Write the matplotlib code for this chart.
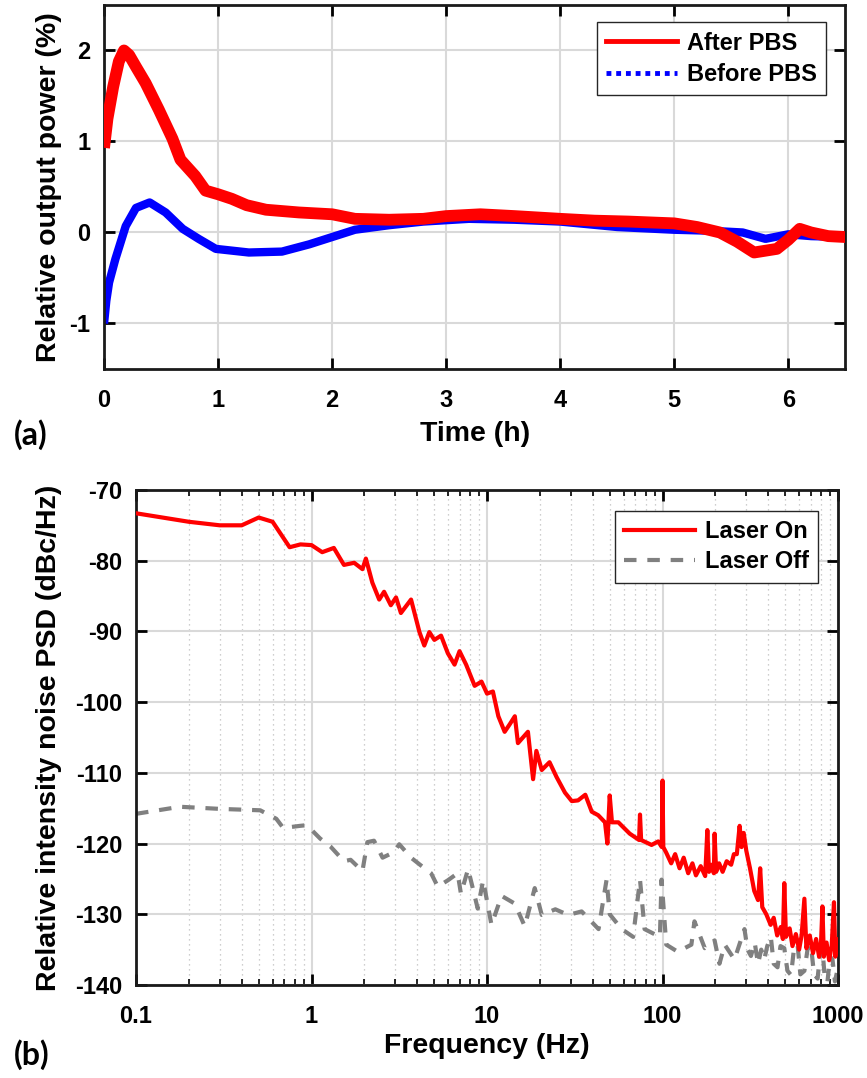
"""Laser output power drift (a) and relative intensity noise PSD (b)."""

import matplotlib.pyplot as plt
from matplotlib.lines import Line2D
from matplotlib.ticker import LogLocator, NullFormatter

plt.rcParams["font.family"] = ["Liberation Sans", "DejaVu Sans"]
plt.rcParams["font.weight"] = "bold"
plt.rcParams["axes.unicode_minus"] = False

# ---- panel (a): relative output power vs time ----
t_after = [0.0, 0.03, 0.08, 0.13, 0.175, 0.22, 0.28, 0.365, 0.48, 0.6, 0.67,
           0.8, 0.89, 1.0, 1.12, 1.25, 1.42, 1.71, 2.0, 2.2, 2.5, 2.8, 3.0,
           3.3, 3.6, 4.0, 4.3, 4.6, 5.0, 5.2, 5.4, 5.55, 5.7, 5.8, 5.9, 6.0,
           6.1, 6.2, 6.35, 6.5]
p_after = [0.93, 1.25, 1.6, 1.88, 2.0, 1.95, 1.82, 1.64, 1.35, 1.03, 0.8,
           0.62, 0.46, 0.42, 0.37, 0.3, 0.25, 0.22, 0.2, 0.15, 0.14, 0.15, 0.18,
           0.2, 0.18, 0.15, 0.13, 0.12, 0.1, 0.06, 0.0, -0.1, -0.22, -0.2,
           -0.18, -0.08, 0.04, 0.0, -0.04, -0.05]

t_before = [0.0, 0.02, 0.044, 0.1, 0.19, 0.28, 0.4, 0.54, 0.69, 0.83, 0.98,
            1.27, 1.56, 1.8, 2.0, 2.2, 2.5, 2.8, 3.2, 3.6, 4.0, 4.5, 5.0, 5.3,
            5.6, 5.8, 6.0, 6.2, 6.5]
p_before = [-1.0, -0.75, -0.55, -0.29, 0.07, 0.27, 0.33, 0.22, 0.04, -0.07,
            -0.18, -0.22, -0.21, -0.13, -0.05, 0.03, 0.08, 0.12, 0.15, 0.14,
            0.12, 0.06, 0.03, 0.02, 0.0, -0.07, -0.02, -0.04, -0.05]

# ---- panel (b): RIN PSD ----
f_on = [0.1, 0.2, 0.3, 0.4, 0.5, 0.6, 0.75, 0.865, 1.0, 1.15, 1.34, 1.53, 1.75,
        1.95, 2.04, 2.22, 2.43, 2.59, 2.83, 3.03, 3.23, 3.69, 4.12, 4.39, 4.69,
        5.01, 5.47, 5.98, 6.53, 6.97, 7.6, 8.5, 9.3, 10.0, 10.8, 11.6, 12.6,
        13.5, 14.4, 15.0, 17.1, 18.3, 19.1, 20.5, 22.7, 24.9, 27.8, 30.4, 33.0,
        36.3, 39.5, 43.0, 47.0, 48.5, 50.0, 51.5, 56.0, 65.0, 73.5, 74.4, 75.5,
        86.6, 94.5, 99.0, 100.0, 101.0,
        105, 112, 118, 125, 132, 140, 148, 155, 165, 175, 180, 184, 190, 196,
        198, 202, 210, 220, 232, 246, 255, 265, 275, 282, 290, 300, 315, 333,
        350, 360, 370, 390, 413, 430, 450, 472, 485, 494, 505, 530, 550, 575,
        600, 620, 643, 660, 690, 720, 750, 780, 800, 815, 830, 860, 890, 920,
        948, 965, 985, 1000]
psd_on = [-73.3, -74.5, -75.0, -75.0, -73.9, -74.5, -78.1, -77.7, -77.8, -78.8,
          -78.2, -80.6, -80.3, -81.2, -79.7, -83.1, -85.5, -84.4, -86.3, -85.2,
          -87.4, -85.5, -90.1, -92.0, -90.1, -91.2, -90.6, -93.1, -94.7, -92.8,
          -94.7, -97.7, -97.1, -98.8, -98.5, -102.0, -104.2, -103.1, -102.0,
          -105.8, -104.2, -110.9, -106.9, -109.6, -108.5, -110.6, -112.8,
          -114.0, -113.9, -113.1, -115.5, -116.0, -117.0, -120.0, -113.2,
          -117.0, -117.0, -118.6, -119.5, -115.9, -119.5, -120.2, -119.7,
          -120.5, -111.1, -120.5,
          -121.3, -122.8, -121.5, -123.5, -122.0, -124.2, -122.8, -124.5,
          -123.2, -124.6, -118.1, -124.0, -123.0, -124.2, -118.6, -124.0,
          -122.8, -124.0, -122.5, -123.0, -121.5, -121.5, -117.5, -120.5,
          -118.5, -121.0, -123.5, -126.7, -128.0, -123.5, -129.0, -130.0,
          -131.5, -130.5, -133.0, -131.8, -133.5, -125.6, -133.2, -132.0,
          -134.5, -132.8, -135.0, -133.0, -127.8, -134.8, -133.0, -135.5,
          -133.5, -136.0, -134.0, -128.9, -136.0, -134.0, -136.5, -134.5,
          -128.3, -136.0, -133.5, -134.3]

f_off = [0.1, 0.178, 0.3, 0.51, 0.63, 0.69, 0.86, 0.94, 1.12, 1.28, 1.53, 1.67,
         1.95, 2.08, 2.27, 2.54, 2.96, 3.16, 3.69, 4.2, 4.8, 5.24, 5.98, 6.8, 7.1,
         7.8, 8.85, 9.5, 10.6, 12.1, 14.4, 16.4, 18.7, 20.5, 24.5, 29.0, 34.6,
         43.2, 48.0, 50.0, 58.5, 68.0, 74.4, 79.0, 96.6, 98.7, 105.0, 122.0,
         146.0, 152.0, 174.0, 198.0, 211.0, 226.0, 257.0,
         293, 305, 319, 335, 350, 365, 380, 395, 414, 430, 452, 470, 494, 515,
         540, 560, 588, 610, 643, 670, 700, 730, 765, 790, 815, 840, 870, 900,
         930, 960, 1000]
psd_off = [-115.8, -114.8, -115.1, -115.3, -116.5, -117.8, -117.5, -117.4,
           -119.3, -120.4, -122.5, -122.3, -123.9, -119.8, -119.6, -122.0,
           -121.2, -120.1, -122.0, -123.1, -124.2, -126.1, -125.2, -124.2,
           -127.1, -123.6, -129.2, -125.2, -131.5, -127.4, -128.5, -131.7,
           -126.3, -130.1, -129.3, -130.1, -129.6, -132.1, -125.1, -130.0,
           -132.1, -133.2, -125.1, -132.1, -133.2, -125.1, -134.3, -135.3,
           -134.3, -131.0, -134.8, -133.7, -137.0, -134.3, -136.4,
           -132.1, -135.0, -135.9, -134.0, -137.0, -135.0, -136.4, -134.5,
           -133.2, -137.0, -137.5, -134.5, -134.8, -138.0, -138.6, -135.0,
           -134.3, -138.5, -138.0, -135.0, -134.3, -138.5, -139.1, -135.5,
           -134.8, -139.0, -139.6, -136.0, -136.4, -139.5, -137.5]

GRID = "#d9d9d9"
TICK_FS = 17
LABEL_FS = 20.5
OFF_DASH = (0, (3.0, 2.6))

fig = plt.figure(figsize=(8.67, 10.78), dpi=100)
ax1 = fig.add_axes([0.120, 0.6577, 0.855, 0.3377])
ax2 = fig.add_axes([0.1569, 0.0863, 0.8097, 0.4592])

# panel (a)
ax1.plot(t_before, p_before, color="#0000ff", lw=6, solid_capstyle="butt", zorder=2)
ax1.plot(t_after, p_after, color="#ff0000", lw=8.5, solid_capstyle="butt", zorder=3)
ax1.set_xlim(0, 6.5)
ax1.set_ylim(-1.5, 2.5)
ax1.set_xticks(range(0, 7))
ax1.set_yticks([-1, 0, 1, 2])
ax1.grid(True, color=GRID, lw=1.5)
ax1.set_axisbelow(True)
ax1.set_xlabel("Time (h)", fontsize=LABEL_FS, fontweight="bold")
ax1.set_ylabel("Relative output power (%)", fontsize=LABEL_FS, fontweight="bold")
ax1.xaxis.set_label_coords(0.5, -0.143)
ax1.yaxis.set_label_coords(-0.057, 0.5)
handles_a = [Line2D([], [], color="#ff0000", lw=3.5),
             Line2D([], [], color="#0000ff", lw=3.5, ls=(0, (1, 1)))]
ax1.legend(handles_a, ["After PBS", "Before PBS"], loc="upper right",
           bbox_to_anchor=(0.974, 0.953), fontsize=17, frameon=True, fancybox=False,
           edgecolor="#262626", framealpha=1, handlelength=3.0, borderpad=0.4,
           labelspacing=0.35, handletextpad=0.4, borderaxespad=0)

# panel (b)
ax2.semilogx(f_off, psd_off, color="#808080", lw=3, ls=OFF_DASH, zorder=2)
ax2.semilogx(f_on, psd_on, color="#ff0000", lw=3, zorder=3)
ax2.set_xlim(0.1, 1000)
ax2.set_ylim(-140, -70)
ax2.set_yticks(range(-140, -69, 10))
ax2.set_xticks([0.1, 1, 10, 100, 1000])
ax2.set_xticklabels(["0.1", "1", "10", "100", "1000"])
ax2.xaxis.set_minor_locator(LogLocator(base=10, subs=range(2, 10), numticks=20))
ax2.xaxis.set_minor_formatter(NullFormatter())
ax2.grid(True, which="major", color=GRID, lw=1.5)
ax2.grid(True, which="minor", axis="x", color="#bfbfbf", lw=0.9, ls=(0, (1, 3)))
ax2.set_axisbelow(True)
ax2.set_xlabel("Frequency (Hz)", fontsize=LABEL_FS, fontweight="bold")
ax2.set_ylabel("Relative intensity noise PSD (dBc/Hz)", fontsize=LABEL_FS,
               fontweight="bold")
ax2.xaxis.set_label_coords(0.5, -0.097)
ax2.yaxis.set_label_coords(-0.106, 0.5)
handles_b = [Line2D([], [], color="#ff0000", lw=3),
             Line2D([], [], color="#808080", lw=3, ls=OFF_DASH)]
ax2.legend(handles_b, ["Laser On", "Laser Off"], loc="upper right",
           bbox_to_anchor=(0.9715, 0.9576), fontsize=17, frameon=True,
           fancybox=False, edgecolor="#262626", framealpha=1, handlelength=3.0,
           borderpad=0.4, labelspacing=0.3, handletextpad=0.4, borderaxespad=0)

for ax in (ax1, ax2):
    for sp in ax.spines.values():
        sp.set_linewidth(2)
        sp.set_color("#1a1a1a")
    ax.tick_params(which="both", direction="in", top=True, right=True,
                   labelsize=TICK_FS, width=2)
    ax.tick_params(which="major", length=8)
    ax.tick_params(axis="x", which="major", pad=14.5)
    ax.tick_params(axis="y", which="major", pad=10)
    ax.tick_params(which="minor", length=4, width=1.2)
    for lab in ax.get_xticklabels() + ax.get_yticklabels():
        lab.set_fontweight("bold")

fig.text(31 / 867, 1 - 435 / 1078, "(a)", fontsize=23, fontweight="bold",
         family=["Lato", "DejaVu Sans"], ha="center", va="center")
fig.text(32 / 867, 1 - 1055 / 1078, "(b)", fontsize=23, fontweight="bold",
         family=["Lato", "DejaVu Sans"], ha="center", va="center")

fig.savefig("out.png", dpi=100)
